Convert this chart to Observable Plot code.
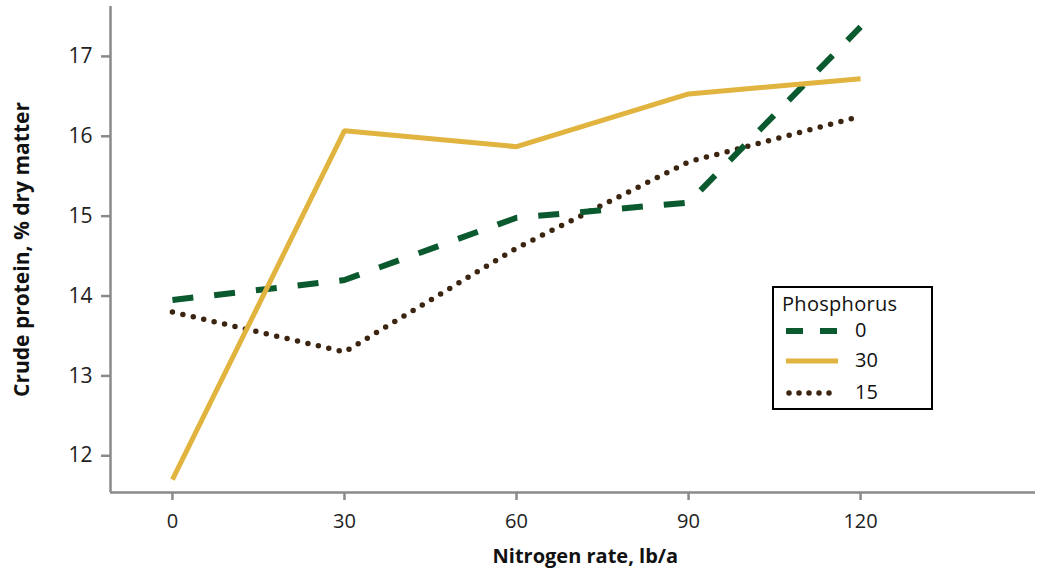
<!DOCTYPE html>
<html>
<head>
<meta charset="utf-8">
<script src="https://cdn.jsdelivr.net/npm/d3@7"></script>
<script src="https://cdn.jsdelivr.net/npm/@observablehq/plot@0.6"></script>
<style>
  html, body { margin: 0; padding: 0; background: #fff; }
  #chart { position: relative; width: 1050px; height: 580px; }
  #legend {
    position: absolute; left: 772px; top: 286px; width: 161px; height: 124px;
    border: 2px solid #000; box-sizing: border-box; background: #fff;
    font-family: "Open Sans", "Liberation Sans", sans-serif; font-size: 20px; color: #111;
  }
  #legend .title { position: absolute; left: 8px; top: 2px; letter-spacing: 0.3px; }
  #legend .row { position: absolute; left: 12px; height: 24px; width: 140px; }
  #legend .row svg { position: absolute; left: 0; top: 0; }
  #legend .row span { position: absolute; left: 69px; top: -3px; }
</style>
</head>
<body>
<div id="chart"></div>
<script>
const nitrogen = [0, 30, 60, 90, 120];
const phosphorusLevels = ["0", "30", "15"];
const protein_P0  = [13.95, 14.20, 14.98, 15.17, 17.37];
const protein_P30 = [11.70, 16.07, 15.87, 16.53, 16.72];
const protein_P15 = [13.80, 13.30, 14.60, 15.68, 16.25];
const yTicks = [12, 13, 14, 15, 16, 17];
const xTicks = [0, 30, 60, 90, 120];

const seriesStyle = {
  "0":  {stroke: "#0b5a2f", strokeWidth: 6, strokeDasharray: "21,21", strokeLinecap: "butt"},
  "30": {stroke: "#e1b43f", strokeWidth: 5, strokeDasharray: null, strokeLinecap: "butt"},
  "15": {stroke: "#3b2410", strokeWidth: 5.5, strokeDasharray: "0,10.7", strokeLinecap: "round"}
};
const seriesValues = {"0": protein_P0, "30": protein_P30, "15": protein_P15};

const rows = p => nitrogen.map((n, i) => ({n, v: seriesValues[p][i], p}));

const axisColor = "#8a8a8d";
const font = "'Open Sans', 'Liberation Sans', sans-serif";

const lineMarks = ["15", "0", "30"].map(p =>
  Plot.line(rows(p), {
    x: "n", y: "v",
    stroke: seriesStyle[p].stroke,
    strokeWidth: seriesStyle[p].strokeWidth,
    strokeDasharray: seriesStyle[p].strokeDasharray,
    strokeLinecap: seriesStyle[p].strokeLinecap,
    strokeLinejoin: "miter"
  })
);

const xDom = [-10.8, 150.5];
const yDom = [11.54, 17.625];

const plot = Plot.plot({
  width: 1050,
  height: 580,
  marginLeft: 110,
  marginRight: 15,
  marginTop: 6,
  marginBottom: 88,
  style: {fontFamily: font, fontSize: "20px", color: "#222", background: "#fff"},
  x: {domain: xDom},
  y: {domain: yDom},
  marks: [
    Plot.ruleX([xDom[0]], {stroke: axisColor, strokeWidth: 2.5}),
    Plot.ruleY([yDom[0]], {stroke: axisColor, strokeWidth: 2.5}),
    Plot.axisY({ticks: yTicks, tickFormat: d => String(d), tickSize: 9, tickPadding: 9, stroke: axisColor, strokeWidth: 2.5, label: null, fontSize: 21, fill: "#222"}),
    Plot.axisX({ticks: xTicks, tickFormat: d => String(d), tickSize: 8, tickPadding: 13, stroke: axisColor, strokeWidth: 2.5, label: null, fontSize: 20, fill: "#222"}),
    ...lineMarks,
    Plot.text(["Crude protein, % dry matter"], {
      frameAnchor: "left", dx: -88, rotate: -90, text: d => d, textAnchor: "middle",
      fontWeight: "bold", fontSize: 21, fill: "#111"
    }),
    Plot.text(["Nitrogen rate, lb/a"], {
      x: [72], frameAnchor: "bottom", dy: 70, text: d => d,
      fontWeight: "bold", fontSize: 20, fill: "#111"
    })
  ]
});

const chart = document.getElementById("chart");
chart.appendChild(plot);

// legend
const legend = document.createElement("div");
legend.id = "legend";
const title = document.createElement("div");
title.className = "title";
title.textContent = "Phosphorus";
legend.appendChild(title);
const rowTops = [31, 61, 93];
phosphorusLevels.forEach((p, i) => {
  const row = document.createElement("div");
  row.className = "row";
  row.style.top = rowTops[i] + "px";
  const s = seriesStyle[p];
  const svg = d3.create("svg").attr("width", 70).attr("height", 24);
  svg.append("line")
    .attr("x1", p === "15" ? 3 : 0).attr("x2", p === "0" ? 51 : 52)
    .attr("y1", 12).attr("y2", 12)
    .attr("stroke", s.stroke).attr("stroke-width", s.strokeWidth)
    .attr("stroke-dasharray", p === "0" ? "17,17" : (p === "15" ? "0,10" : null))
    .attr("stroke-linecap", s.strokeLinecap);
  row.appendChild(svg.node());
  const lab = document.createElement("span");
  lab.textContent = p;
  row.appendChild(lab);
  legend.appendChild(row);
});
chart.appendChild(legend);
</script>
</body>
</html>
